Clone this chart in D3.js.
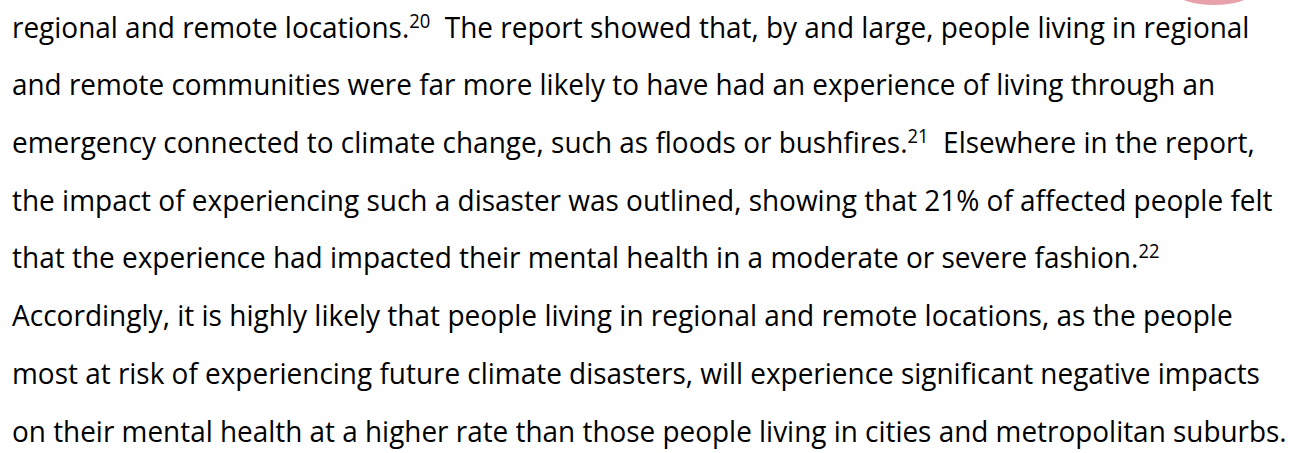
<!DOCTYPE html>
<html>
<head>
<meta charset="utf-8">
<script src="https://cdn.jsdelivr.net/npm/d3@7"></script>
<style>
  html, body { margin: 0; padding: 0; background: #ffffff; }
  svg { display: block; }
  text { white-space: pre; font-variant-ligatures: none; font-feature-settings: "liga" 0, "clig" 0; }
</style>
</head>
<body>
<script>
// Paragraph content: each line is a list of [text, isSuperscript] segments
const line1 = [["regional and remote locations.", false], ["20", true], ["  The report showed that, by and large, people living in regional", false]];
const line2 = [["and remote communities were far more likely to have had an experience of living through an", false]];
const line3 = [["emergency connected to climate change, such as floods or bushfires.", false], ["21", true], ["  Elsewhere in the report,", false]];
const line4 = [["the impact of experiencing such a disaster was outlined, showing that 21% of affected people felt", false]];
const line5 = [["that the experience had impacted their mental health in a moderate or severe fashion.", false], ["22", true]];
const line6 = [["Accordingly, it is highly likely that people living in regional and remote locations, as the people", false]];
const line7 = [["most at risk of experiencing future climate disasters, will experience significant negative impacts", false]];
const line8 = [["on their mental health at a higher rate than those people living in cities and metropolitan suburbs.", false]];
const lines = [line1, line2, line3, line4, line5, line6, line7, line8];

// Right edge of each line as measured in the reference (layout)
const lineEnds = [1250, 1216, 1255, 1273, 1160, 1233, 1260, 1287];

const W = 1291, H = 453;
const left = 12;
const fontSize = 29;

const svg = d3.select("body").append("svg").attr("width", W).attr("height", H);

// decorative pink shape at top right (partially cut off)
svg.append("ellipse")
  .attr("cx", 1214).attr("cy", -7).attr("rx", 37).attr("ry", 12)
  .attr("fill", "#e7a1aa");

const y = d3.scaleLinear().domain([0, lines.length - 1]).range([37.5, 441.5]);

lines.forEach((segs, i) => {
  const g = svg.append("g");
  const t = g.append("text")
    .attr("x", 0).attr("y", 0)
    .attr("font-family", "'Open Sans', Lato, sans-serif")
    .attr("font-size", fontSize)
    .attr("fill", "#000000");
  segs.forEach((s, j) => {
    const prevSup = j > 0 && segs[j - 1][1];
    const ts = t.append("tspan").text(s[0]);
    if (s[1]) {
      ts.attr("font-size", fontSize * 0.66).attr("dy", -fontSize * 0.34);
    } else if (prevSup) {
      ts.attr("dy", fontSize * 0.34);
    }
  });
  const bb = t.node().getBBox();
  const target = lineEnds[i] - left;
  const sx = target / (bb.x + bb.width);
  g.attr("transform", `translate(${left},${y(i)}) scale(${sx},1)`);
});
</script>
</body>
</html>
